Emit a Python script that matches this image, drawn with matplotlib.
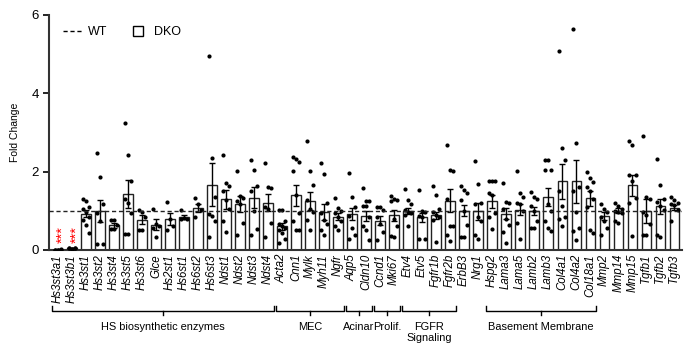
import numpy as np
import matplotlib
matplotlib.use('Agg')
import matplotlib.pyplot as plt
from matplotlib.lines import Line2D
import matplotlib.transforms as mtransforms

plt.rcParams['font.family'] = ['Liberation Sans', 'DejaVu Sans']

# gene names, in plot order
genes = ['Hs3st3a1', 'Hs3st3b1', 'Hs3st1', 'Hs3st2', 'Hs3st4', 'Hs3st5', 'Hs3st6', 'Glce',
         'Hs2st1', 'Hs6st1', 'Hs6st2', 'Hs6st3', 'Ndst1', 'Ndst2', 'Ndst3', 'Ndst4',
         'Acta2', 'Cnn1', 'Mylk', 'Myh11', 'Ngfr', 'Aqp5', 'Cldn10', 'Ccnd1', 'Mki67',
         'Etv4', 'Etv5', 'Fgfr1b', 'Fgfr2b', 'ErbB3', 'Nrg1', 'Hspg2', 'Lama3', 'Lama5',
         'Lamb2', 'Lamb3', 'Col4a1', 'Col4a2', 'Col18a1', 'Mmp2', 'Mmp14', 'Mmp15',
         'Tgfb1', 'Tgfb2', 'Tgfb3']

# DKO mean fold change (bar height)
means = [0.01, 0.04, 0.92, 1.00, 0.63, 1.43, 0.77, 0.64, 0.78, 0.83, 1.06, 1.67, 1.29,
         1.17, 1.33, 1.21, 0.60, 1.40, 1.25, 0.97, 0.85, 0.92, 0.87, 0.75, 0.88,
         0.99, 0.83, 0.88, 1.26, 1.00, 0.99, 1.24, 0.92, 1.03, 1.00, 1.35, 1.75,
         1.75, 1.32, 0.87, 1.00, 1.65, 0.99, 1.11, 1.08]

# SEM
sems = [0.003, 0.01, 0.09, 0.28, 0.07, 0.35, 0.12, 0.14, 0.15, 0.05, 0.10, 0.55, 0.24,
        0.20, 0.27, 0.22, 0.09, 0.27, 0.22, 0.21, 0.08, 0.15, 0.13, 0.12, 0.15,
        0.07, 0.11, 0.09, 0.30, 0.14, 0.22, 0.17, 0.14, 0.15, 0.10, 0.24, 0.44,
        0.55, 0.19, 0.10, 0.06, 0.27, 0.30, 0.19, 0.07]

# individual samples
points = [
    [0.01, 0.01, 0.02, 0.01, 0.00, 0.01],
    [0.05, 0.03, 0.04, 0.06, 0.03, 0.04],
    [1.29, 1.25, 1.10, 1.05, 0.97, 0.85, 0.77, 0.64, 0.43],
    [2.48, 1.87, 1.17, 0.95, 0.74, 0.15, 0.15],
    [0.77, 0.77, 0.63, 0.53, 0.53],
    [3.25, 2.43, 1.75, 1.31, 1.19, 0.94, 0.41, 0.41],
    [1.02, 0.98, 0.84, 0.51, 0.50],
    [1.04, 0.66, 0.60, 0.55, 0.34],
    [1.23, 0.80, 0.62, 0.51],
    [1.02, 0.82, 0.78, 0.80],
    [1.32, 1.17, 1.02, 0.83],
    [4.95, 2.35, 1.36, 0.92, 0.87, 0.74, 0.34],
    [2.42, 1.72, 1.62, 1.50, 1.28, 1.05, 0.73, 0.46],
    [2.01, 1.38, 1.33, 1.25, 1.18, 0.70, 0.37],
    [2.30, 2.04, 1.63, 1.50, 1.00, 0.53, 0.37],
    [2.23, 1.60, 1.57, 1.10, 1.04, 0.70, 0.33],
    [1.02, 1.02, 0.75, 0.66, 0.60, 0.57, 0.52, 0.42, 0.29, 0.17],
    [2.38, 2.31, 2.24, 2.01, 1.41, 0.94, 0.73, 0.51, 0.51],
    [2.79, 2.01, 1.67, 1.27, 1.04, 0.97, 0.77, 0.51],
    [2.21, 1.94, 1.19, 0.94, 0.77, 0.66, 0.51, 0.37],
    [1.33, 1.08, 0.99, 0.94, 0.85, 0.73, 0.60, 0.51],
    [1.97, 1.34, 1.10, 0.87, 0.55, 0.39, 0.29],
    [1.58, 1.26, 1.26, 1.13, 1.13, 0.85, 0.60, 0.51, 0.25],
    [1.10, 1.10, 1.03, 0.85, 0.66, 0.45, 0.25],
    [1.38, 1.31, 1.28, 1.24, 0.78, 0.60, 0.36, 0.33],
    [1.55, 1.28, 1.16, 1.02, 0.97, 0.94, 0.90, 0.60],
    [1.52, 1.00, 0.97, 0.87, 0.83, 0.29, 0.28],
    [1.62, 1.39, 1.05, 0.97, 0.90, 0.85, 0.77, 0.21],
    [2.69, 2.04, 2.01, 1.29, 0.62, 0.61, 0.37, 0.22],
    [1.64, 1.52, 1.46, 1.28, 0.99, 0.63, 0.33, 0.33],
    [2.26, 1.68, 1.20, 1.17, 0.83, 0.73, 0.37, 0.29],
    [1.77, 1.77, 1.77, 1.46, 1.39, 0.94, 0.83, 0.53],
    [1.70, 1.22, 1.19, 1.04, 0.80, 0.63, 0.46, 0.17],
    [2.01, 1.46, 1.34, 1.19, 1.17, 0.99, 0.68, 0.27],
    [1.48, 1.34, 1.29, 1.12, 0.99, 0.75, 0.56, 0.56],
    [2.30, 2.30, 2.04, 2.04, 1.17, 0.99, 0.73, 0.56, 0.48],
    [5.07, 2.59, 2.30, 1.51, 1.11, 0.85, 0.78, 0.60],
    [5.65, 2.74, 1.60, 1.50, 0.97, 0.56, 0.48, 0.26],
    [1.99, 1.84, 1.73, 1.60, 1.51, 1.31, 1.09, 0.51, 0.44],
    [1.16, 1.04, 0.97, 0.83, 0.75, 0.56, 0.39],
    [1.21, 1.12, 1.04, 0.99, 0.97, 0.94, 0.73, 0.68],
    [2.79, 2.67, 1.92, 1.92, 1.75, 1.33, 1.21, 0.36],
    [2.91, 1.36, 1.29, 0.97, 0.88, 0.66, 0.37, 0.37],
    [2.33, 1.65, 1.29, 1.22, 1.11, 1.02, 0.37, 0.32],
    [1.34, 1.28, 1.21, 1.17, 1.14, 1.02, 0.75],
]

# gene groups: label, first gene, last gene
groups = [
    ('HS biosynthetic enzymes', 'Hs3st3a1', 'Ndst4'),
    ('MEC', 'Acta2', 'Ngfr'),
    ('Acinar', 'Aqp5', 'Cldn10'),
    ('Prolif.', 'Ccnd1', 'Mki67'),
    ('FGFR\nSignaling', 'Etv4', 'Fgfr2b'),
    ('Basement Membrane', 'Hspg2', 'Col18a1'),
]

significant = ['Hs3st3a1', 'Hs3st3b1']

fig = plt.figure(figsize=(6.95, 3.55), dpi=100)
ax = fig.add_axes([0.0705, 0.296, 0.911, 0.662])

x = np.arange(len(genes))
ax.bar(x, means, width=0.66, color='white', edgecolor='#222222', linewidth=1.0, zorder=2)
ax.errorbar(x, means, yerr=sems, fmt='none', ecolor='black', elinewidth=1.0,
            capsize=2.5, capthick=1.0, zorder=3)

# spread the dots a little so they don't all sit on top of each other
for i, pts in enumerate(points):
    n = len(pts)
    offs = ((np.arange(n) % 3) - 1) * 0.24
    ax.scatter(x[i] + offs, pts, s=9, color='black', zorder=4, linewidths=0)

ax.axhline(1, color='#222222', linestyle=(0, (3, 2)), linewidth=1.0, zorder=5)

# rotated stars sit left of the anchor, nudge them back over the bar
star_tr = mtransforms.offset_copy(ax.transData, fig=fig, x=3.6, y=0, units='points')
for g in significant:
    ax.text(genes.index(g), 0.17, '***', rotation=90, color='red', fontsize=10.5,
            ha='center', va='bottom', zorder=6, transform=star_tr)

ax.set_xlim(-0.64, 44.57)
ax.set_ylim(0, 6)
ax.set_yticks([0, 2, 4, 6])
ax.tick_params(axis='y', labelsize=9.5, length=4, width=1.2)
ax.set_xticks(x)
ax.set_xticklabels(genes, rotation=90, fontsize=8.3, style='italic')
ax.tick_params(axis='x', length=0, pad=3)
ax.set_ylabel('Fold Change', fontsize=7.5, labelpad=8)

for s in ['top', 'right']:
    ax.spines[s].set_visible(False)
for s in ['left', 'bottom']:
    ax.spines[s].set_linewidth(1.5)
    ax.spines[s].set_color('#333333')

# group brackets below the gene names
trans = mtransforms.blended_transform_factory(ax.transData, ax.transAxes)
yb = -0.258
for label, g0, g1 in groups:
    a = genes.index(g0) - 0.42
    b = genes.index(g1) + 0.42
    mid = (a + b) / 2
    ax.plot([a, a, b, b], [yb + 0.018, yb, yb, yb + 0.018], color='black', lw=1,
            transform=trans, clip_on=False)
    ax.plot([mid, mid], [yb, yb - 0.018], color='black', lw=1, transform=trans, clip_on=False)
    ax.text(mid, yb - 0.05, label, transform=trans, ha='center', va='top', fontsize=7.9,
            linespacing=1.1)

handles = [Line2D([], [], color='black', linestyle=(0, (3, 2)), lw=1.0),
           Line2D([], [], color='white', marker='s', markersize=7,
                  markerfacecolor='white', markeredgecolor='black', markeredgewidth=1.0)]
ax.legend(handles, ['WT', 'DKO'], loc='upper left', bbox_to_anchor=(0.005, 1.0), ncol=2,
          frameon=False, fontsize=9, handlelength=1.5, columnspacing=1.7, handletextpad=0.5)

plt.savefig('out.png', dpi=100)
